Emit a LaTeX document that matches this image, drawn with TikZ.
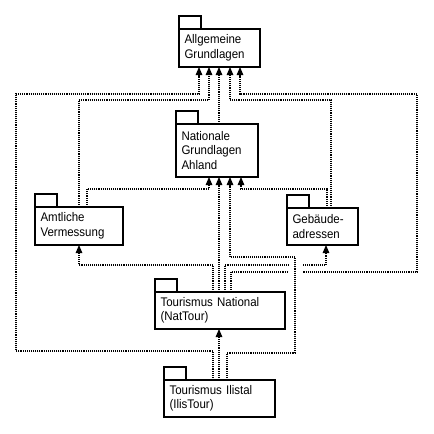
\documentclass[tikz,border=0pt]{standalone}
\usepackage{fontspec}
\setmainfont{Liberation Sans}[FakeStretch=0.92]
\usetikzlibrary{arrows.meta}
\newcommand{\pkgfont}{\fontsize{12.5}{14.5}\selectfont}
\tikzset{
  pkg/.style={draw, line width=1.2pt, anchor=north west, inner xsep=5.5pt, inner ysep=0pt,
    outer sep=0pt, align=left, font=\pkgfont},
  tabbox/.style={draw, line width=1.2pt},
  dep/.style={line width=1.15pt, dash pattern=on 1.1pt off 1pt, -{Triangle[width=6.5pt,length=8pt]}}
}
\begin{document}
\begin{tikzpicture}[x=1pt,y=-1pt]
\useasboundingbox (0,0) rectangle (434,434);
% packages
\node[pkg, minimum width=81pt, minimum height=38pt, text width=70pt] (allg) at (179,29) {Allgemeine\\Grundlagen};
\node[pkg, minimum width=82pt, minimum height=53pt, text width=71pt] (nat) at (176,124) {Nationale\\Grundlagen\\Ahland};
\node[pkg, minimum width=88pt, minimum height=38pt, text width=77pt] (amt) at (35,207) {Amtliche\\Vermessung};
\node[pkg, minimum width=71pt, minimum height=37pt, text width=60pt] (geb) at (287,208) {Gebäude-\\adressen};
\node[pkg, minimum width=130pt, minimum height=37pt, text width=119pt] (tn) at (155,292) {Tourismus National\\(NatTour)};
\node[pkg, minimum width=111pt, minimum height=37pt, text width=100pt] (ti) at (164,380) {Tourismus Ilistal\\(IlisTour)};
\foreach \p in {allg,nat,amt,geb,tn,ti}
  \draw[tabbox] (\p.north west) rectangle ++(22,-13);
% ports
\coordinate (allg1) at ([xshift=20pt]allg.south west);
\coordinate (allg2) at ([xshift=30pt]allg.south west);
\coordinate (allg3) at ([xshift=40pt]allg.south west);
\coordinate (allg4) at ([xshift=51pt]allg.south west);
\coordinate (allg5) at ([xshift=61pt]allg.south west);
\coordinate (nat0) at ([xshift=43pt]nat.north west);
\coordinate (nat1) at ([xshift=33pt]nat.south west);
\coordinate (nat2) at ([xshift=43pt]nat.south west);
\coordinate (nat3) at ([xshift=54pt]nat.south west);
\coordinate (nat4) at ([xshift=65pt]nat.south west);
\coordinate (amt1) at ([xshift=44pt]amt.north west);
\coordinate (amt2) at ([xshift=52pt]amt.north west);
\coordinate (amtS) at ([xshift=44pt]amt.south west);
\coordinate (geb1) at ([xshift=40pt]geb.north west);
\coordinate (geb2) at ([xshift=44pt]geb.north west);
\coordinate (gebS) at ([xshift=39pt]geb.south west);
\coordinate (tn1) at ([xshift=58pt]tn.north west);
\coordinate (tn2) at ([xshift=64pt]tn.north west);
\coordinate (tn3) at ([xshift=70pt]tn.north west);
\coordinate (tn4) at ([xshift=76pt]tn.north west);
\coordinate (tnS) at ([xshift=64pt]tn.south west);
\coordinate (ti1) at ([xshift=49pt]ti.north west);
\coordinate (ti2) at ([xshift=55pt]ti.north west);
\coordinate (ti3) at ([xshift=63pt]ti.north west);
% routing rows / columns
\coordinate (r94) at (0,94);
\coordinate (r100) at (0,100);
\coordinate (r189) at (0,189);
\coordinate (r257) at (0,257);
\coordinate (r265) at (0,265);
\coordinate (r272) at (0,272);
\coordinate (r351) at (0,351);
\coordinate (r353) at (0,353);
\coordinate (c16) at (16,0);
\coordinate (c295) at (295,0);
\coordinate (c417) at (417,0);
% dependencies
\draw[dep] (ti1) |- (c16 |- r351) -- (c16 |- r94) -| (allg1);
\draw[dep] (amt1) |- (allg2 |- r100) -- (allg2);
\draw[dep] (nat0) -- (allg3);
\draw[dep] (geb2) |- (allg4 |- r100) -- (allg4);
\draw[dep] (tn4) |- (c417 |- r272) -- (c417 |- r94) -| (allg5);
\draw[dep] (amt2) |- (nat1 |- r189) -- (nat1);
\draw[dep] (tn2) -- (nat2);
\draw[dep] (geb1) |- (nat4 |- r189) -- (nat4);
\draw[dep] (tn1) |- (amtS |- r265) -- (amtS);
\draw[dep] (tn3) |- (gebS |- r265) -- (gebS);
\draw[dep] (ti2) -- (tnS);
% line jump gap
\fill[white] (288.5,262) rectangle (301.5,275);
\draw[dep] (ti3) |- (c295 |- r353) -- (c295 |- r257) -| (nat3);
\end{tikzpicture}
\end{document}
